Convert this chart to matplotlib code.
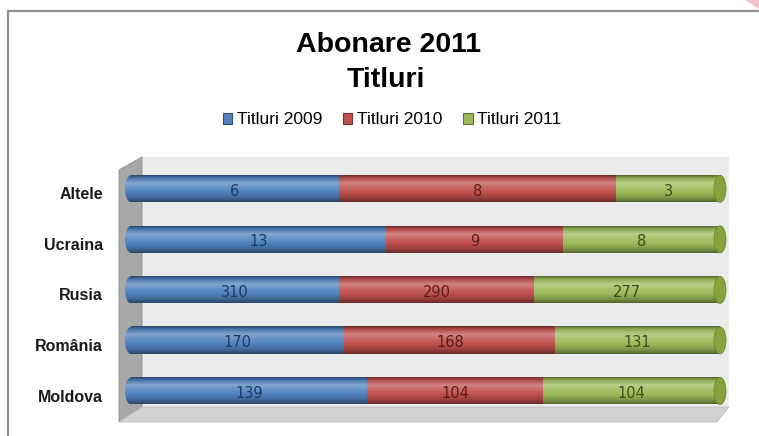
import numpy as np
import matplotlib
matplotlib.use("Agg")
import matplotlib.pyplot as plt
from matplotlib.patches import Ellipse, Polygon, Patch
from matplotlib.lines import Line2D
from matplotlib.transforms import offset_copy
from matplotlib.colors import to_rgb

# --- data ---
categories = ["Moldova", "România", "Rusia", "Ucraina", "Altele"]
series_names = ["Titluri 2009", "Titluri 2010", "Titluri 2011"]
titluri_2009 = [139, 170, 310, 13, 6]
titluri_2010 = [104, 168, 290, 9, 8]
titluri_2011 = [104, 131, 277, 8, 3]

colors = ["#4f81bd", "#c0504d", "#9bbb59"]
label_colors = ["#1f3864", "#5a1d1b", "#3d4d1a"]
cap_color = "#86a33e"

W, H, DPI = 759, 436, 100


def shade(base, f):
    c = np.array(to_rgb(base))
    if f >= 0:
        return c + (1 - c) * f
    return c * (1 + f)


def cylinder_img(base, n=64):
    # vertical shading profile of a horizontal cylinder (top -> bottom)
    stops = [(0.0, -0.45), (0.1, -0.1), (0.3, 0.3), (0.45, 0.14),
             (0.65, 0.0), (0.85, -0.2), (1.0, -0.45)]
    t = np.linspace(0, 1, n)
    ts = [s[0] for s in stops]
    rows = np.array([shade(base, f) for _, f in stops])
    img = np.stack([np.interp(t, ts, rows[:, k]) for k in range(3)], axis=-1)
    return img[:, None, :]


fig = plt.figure(figsize=(W / DPI, H / DPI), dpi=DPI)
fig.patch.set_facecolor("white")

# axes box in pixels (left, top, right, bottom)
ax_l, ax_t, ax_r, ax_b = 110, 150, 740, 425
ax = fig.add_axes([ax_l / W, 1 - ax_b / H, (ax_r - ax_l) / W, (ax_b - ax_t) / H])

# mapping: x fraction 0 -> 131px, 1 -> 720px ; category 0 -> 391px, step 50.55px
x0_px, x1_px = 131, 720
y0_px, step_px = 391, 50.55


def px_x(p):
    return (p - x0_px) / (x1_px - x0_px)


def px_y(p):
    return (y0_px - p) / step_px


ax.axis("off")

# --- 3D walls ---
back = Polygon([(px_x(142), px_y(157)), (px_x(729), px_y(157)),
                (px_x(729), px_y(407)), (px_x(142), px_y(407))],
               closed=True, facecolor="#ebebeb", edgecolor="none", zorder=0)
ax.add_patch(back)
side = Polygon([(px_x(119), px_y(170)), (px_x(142), px_y(157)),
                (px_x(142), px_y(407)), (px_x(119), px_y(422))],
               closed=True, facecolor="#a8a8a8", edgecolor="#8f8f8f", lw=0.6, zorder=1)
ax.add_patch(side)
floor = Polygon([(px_x(142), px_y(407)), (px_x(729), px_y(407)),
                 (px_x(717), px_y(422)), (px_x(119), px_y(422))],
                closed=True, facecolor="#d2d2d2", edgecolor="#bdbdbd", lw=0.6, zorder=1)
ax.add_patch(floor)

# --- bars (100% stacked cylinders) ---
data = np.array([titluri_2009, titluri_2010, titluri_2011], dtype=float)
totals = data.sum(axis=0)
fracs = data / totals
bar_h = 27 / step_px
cap_w = 12 / (x1_px - x0_px)

for i, cat in enumerate(categories):
    left = 0.0
    for s in range(3):
        width = fracs[s, i]
        img = cylinder_img(colors[s])
        ax.imshow(img, extent=(left, left + width, i - bar_h / 2, i + bar_h / 2),
                  aspect="auto", interpolation="bilinear", origin="upper", zorder=2)
        if s == 0:
            clip = Ellipse((0, i), cap_w, bar_h, facecolor="none", edgecolor="none")
            ax.add_patch(clip)
            im = ax.imshow(img, extent=(-cap_w / 2, 0.001, i - bar_h / 2, i + bar_h / 2),
                           aspect="auto", interpolation="bilinear", origin="upper", zorder=2)
            im.set_clip_path(clip)
        ax.text(left + width / 2, i - 0.05, f"{int(data[s, i])}", ha="center", va="center",
                fontsize=10.5, color=label_colors[s], family="DejaVu Sans", zorder=4)
        left += width
    ax.add_patch(Ellipse((1.0, i), cap_w, bar_h, facecolor=cap_color,
                         edgecolor="#6f8a30", lw=0.6, zorder=3))

# category labels (front plane, slightly below the bar centres)
lab_tr = offset_copy(ax.get_yaxis_transform(), fig=fig, x=-7, y=-6, units="dots")
for i, cat in enumerate(categories):
    ax.text(0, i, cat, transform=lab_tr, ha="right", va="center",
            fontsize=11.5, fontweight="bold", family="Liberation Sans", color="#1a1a1a")

ax.set_aspect("auto")
ax.set_xlim(px_x(ax_l), px_x(ax_r))
ax.set_ylim(px_y(ax_b), px_y(ax_t))

# --- title ---
fig.text(388 / W, 1 - 52 / H, "Abonare 2011", ha="center", va="baseline",
         fontsize=20.5, fontweight="bold", family="Liberation Sans")
fig.text(386 / W, 1 - 86.7 / H, "Titluri", ha="center", va="baseline",
         fontsize=20.5, fontweight="bold", family="Liberation Sans")

# --- legend ---
handles = [Patch(facecolor=c, edgecolor=shade(c, -0.4), lw=0.8) for c in colors]
fig.legend(handles, series_names, loc="center", bbox_to_anchor=(392 / W, 1 - 120 / H),
           ncol=3, frameon=False, prop={"family": "Liberation Sans", "size": 12.5},
           handlelength=0.55, handleheight=0.55, handletextpad=0.25, columnspacing=1.2)

# --- outer chart frame ---
fig.add_artist(Line2D([8 / W, 8 / W], [0, 1 - 11 / H], color="#909090", lw=1.6))
fig.add_artist(Line2D([8 / W, 1], [1 - 11 / H, 1 - 11 / H], color="#909090", lw=1.6))
fig.add_artist(Polygon([(745 / W, 1), (1, 1), (1, 1 - 9 / H)], closed=True,
                       facecolor="#f2c4ca", edgecolor="none", transform=fig.transFigure))

fig.savefig("out.png", dpi=DPI)
